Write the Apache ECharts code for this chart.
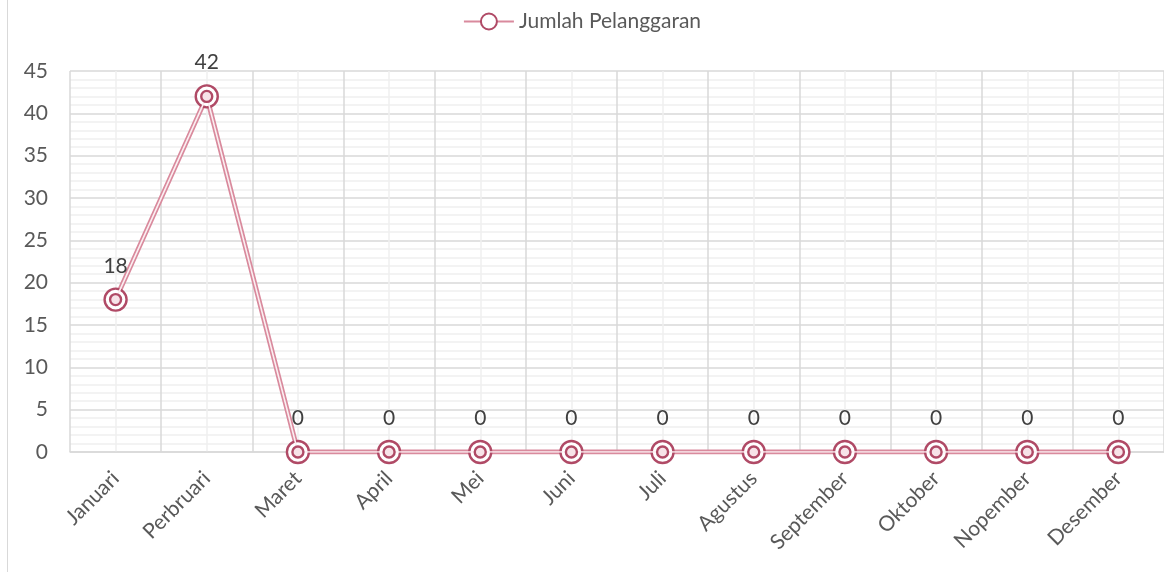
<!DOCTYPE html>
<html>
<head>
<meta charset="utf-8">
<script src="https://cdn.jsdelivr.net/npm/echarts@6/dist/echarts.min.js"></script>
<style>
  html, body { margin: 0; padding: 0; background: #fff; }
  #chart { width: 1164px; height: 572px; }
  #frame { position: absolute; left: 7px; top: 0; width: 1px; height: 572px; background: #d9d9d9; }
</style>
</head>
<body>
<div id="frame"></div>
<div id="chart"></div>
<script>
// data
const months = ['Januari', 'Perbruari', 'Maret', 'April', 'Mei', 'Juni', 'Juli',
  'Agustus', 'September', 'Oktober', 'Nopember', 'Desember']
const pelanggaran = [18, 42, 0, 0, 0, 0, 0, 0, 0, 0, 0, 0]
const seriesName = 'Jumlah Pelanggaran'

const fontFam = 'Lato, "Open Sans", sans-serif'
const rose = '#b04a66'
const pink = '#d98a9d'

const chart = echarts.init(document.getElementById('chart'))

chart.setOption({
  animation: false,
  textStyle: { fontFamily: fontFam },
  legend: {
    top: 6,
    left: 'center',
    data: [seriesName],
    itemWidth: 50,
    itemHeight: 20,
    itemGap: 4,
    textStyle: { color: '#595959', fontSize: 21, fontFamily: fontFam }
  },
  grid: { left: 70, right: -3, top: 71, bottom: 120 },
  xAxis: [
    {
      type: 'category',
      data: months,
      boundaryGap: true,
      axisLine: { lineStyle: { color: '#d9d9d9', width: 1.5 } },
      axisTick: { show: false },
      splitLine: { show: false },
      axisLabel: {
        rotate: 45,
        margin: 23,
        color: '#595959',
        fontSize: 21,
        fontFamily: fontFam
      }
    },
    {
      // helper axis for the vertical gridlines (boundaries + centres)
      type: 'value',
      min: 0,
      max: 12,
      interval: 1,
      position: 'bottom',
      axisLine: { show: false },
      axisTick: { show: false },
      axisLabel: { show: false },
      splitLine: { show: true, lineStyle: { color: '#d9d9d9', width: 1.5 } },
      minorTick: { show: false, splitNumber: 2 },
      minorSplitLine: { show: true, lineStyle: { color: '#efefef', width: 1.5 } }
    }
  ],
  yAxis: {
    type: 'value',
    min: 0,
    max: 45,
    interval: 5,
    axisLine: { show: false },
    axisTick: { show: false },
    axisLabel: { color: '#595959', fontSize: 21, margin: 22, fontFamily: fontFam },
    splitLine: { lineStyle: { color: '#d9d9d9', width: 1.5 } },
    minorTick: { show: false, splitNumber: 5 },
    minorSplitLine: { show: true, lineStyle: { color: '#efefef', width: 1.5 } }
  },
  series: [
    {
      name: seriesName,
      type: 'line',
      xAxisIndex: 0,
      data: pelanggaran,
      color: rose,
      symbol: 'circle',
      symbolSize: 22,
      itemStyle: { color: '#fff', borderColor: rose, borderWidth: 2.4 },
      lineStyle: { color: pink, width: 5 },
      label: {
        show: true,
        position: 'top',
        distance: 11,
        color: '#404040',
        fontSize: 21,
        fontFamily: fontFam
      },
      z: 3
    },
    {
      name: seriesName + ' inner',
      type: 'line',
      xAxisIndex: 0,
      data: pelanggaran,
      symbol: 'circle',
      symbolSize: 11,
      itemStyle: { color: '#f7e3e8', borderColor: rose, borderWidth: 2.4 },
      lineStyle: { color: '#fbeef1', width: 1.6 },
      z: 4
    }
  ]
})
</script>
</body>
</html>
